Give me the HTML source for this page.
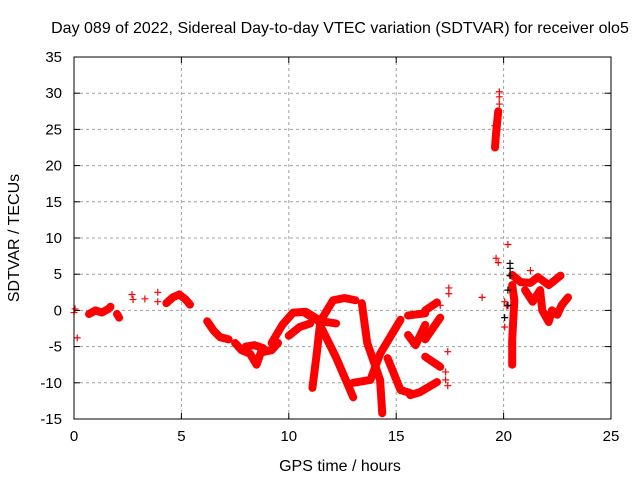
<!DOCTYPE html>
<html><head><meta charset="utf-8"><style>
html,body{margin:0;padding:0;background:#fff;}
svg{display:block;font-family:"Liberation Sans",sans-serif;}
</style></head><body>
<svg id="chart" width="640" height="480" viewBox="0 0 640 480">
<text x="340" y="33" text-anchor="middle" font-size="16">Day 089 of 2022, Sidereal Day-to-day VTEC variation (SDTVAR) for receiver olo5</text>
<text x="340" y="471" text-anchor="middle" font-size="16">GPS time / hours</text>
<text transform="translate(19,238) rotate(-90)" text-anchor="middle" font-size="16">SDTVAR / TECUs</text>
<g id="grid"></g>
<g id="marks"></g>
<rect x="74" y="57" width="537" height="362" fill="none" stroke="#000" stroke-width="1"/>
<g id="axes"></g>
</svg>
<script>
const xTicks=[0,5,10,15,20,25];
const yTicks=[35,30,25,20,15,10,5,0,-5,-10,-15];
// tracks: each is a list of [hours, value]
const tracks=[
[[0.7,-0.5],[1.0,0],[1.3,-0.3],[1.6,0.2],[1.7,0.5]],
[[2.0,-0.5],[2.1,-1]],
[[4.3,1],[4.6,1.8],[4.9,2.2],[5.2,1.5],[5.4,0.8]],
[[6.2,-1.5],[6.5,-2.8],[6.8,-3.7],[7.2,-4]],
[[7.5,-4.5],[7.8,-5.5],[8.2,-6],[8.5,-7.5],[8.7,-5.8],[9.2,-5.5],[9.5,-4.5]],
[[8.0,-5],[8.4,-4.8],[8.8,-5.2]],
[[9.2,-4.5],[9.7,-2],[10.2,-0.3],[10.8,-0.2],[11.5,-1.5],[12.2,-1.8]],
[[10,-3.5],[10.5,-2.3],[11,-1.8]],
[[10.67,-0.2],[11.45,-1.6],[12.06,1.4],[12.6,1.7],[13.1,1.4]],
[[11.45,-2],[11.3,-6],[11.1,-10.7]],
[[11.45,-2],[12.2,-6.5],[13,-12]],
[[13.4,1],[13.65,-4.5],[14.25,-9.6],[14.35,-14.2]],
[[15.2,-1.3],[14.25,-6],[13.8,-9.6],[13,-10]],
[[14.6,-6.6],[15.2,-11],[15.65,-11.4]],
[[15.55,-0.7],[16.35,-0.4]],
[[15.55,-3.4],[15.9,-4.8],[16.35,-2]],
[[16.35,0],[16.9,1.1]],
[[16.35,-4],[17.05,-1]],
[[16.35,-6.4],[17.05,-7.8]],
[[15.65,-11.7],[16.1,-11.3],[16.9,-9.9]],
[[20.4,4.9],[20.8,3.9],[21.25,3.8],[21.6,4.6],[22.1,3.5],[22.4,4.2],[22.65,4.8]],
[[20.4,3.5],[20.5,1.4],[20.45,-1.3],[20.4,-4.1],[20.4,-7.5]],
[[21,2.8],[21.35,1.2],[21.7,2.8],[21.8,0],[22.1,-1.6],[22.25,0],[22.5,-0.6],[22.7,0.7],[23,1.8]],
[[19.6,22.5],[19.65,24.5],[19.7,26],[19.75,27.5]]
];
const redPoints=[[0,-0.3],[0.05,0.2],[0.15,-3.8],[2.7,2.2],[2.75,1.5],[3.3,1.6],[3.9,2.5],[3.9,1.2],
[17.45,3.1],[17.45,2.3],[17.4,-5.7],[17.3,-8.5],[17.3,-9.6],[17.4,-10.4],[17.05,0.7],
[19.6,23],[19.6,25.5],[19.8,28.5],[19.8,29.5],[19.8,30.2],[19.65,7.2],[19.75,6.6],[19.0,1.8],
[20.05,1.2],[20.15,0.6],[20.05,-2.3],[20.2,9.1],[21.25,5.5]];
const blackPoints=[[20.3,6.5],[20.3,5.8],[20.3,4.8],[20.2,2.8],[20.2,0.7],[20.05,-1]];

const NS="http://www.w3.org/2000/svg";
const X0=74,X1=611,Y0=419,Y1=57;
function xs(t){return X0+(t-0)/(25-0)*(X1-X0);}
function ys(v){return Y0-(v-(-15))/(35-(-15))*(Y0-Y1);}
function mk(tag,a,parent){const e=document.createElementNS(NS,tag);for(const k in a)e.setAttribute(k,a[k]);parent.appendChild(e);return e;}
const grid=document.getElementById('grid'),axes=document.getElementById('axes'),marks=document.getElementById('marks');
xTicks.forEach(t=>{
 const x=xs(t);
 if(t>0&&t<25){const g=mk('line',{x1:x,x2:x,y1:Y0,y2:Y1,stroke:'#a0a0a0','stroke-dasharray':'3,3'},grid);
 
 }
 mk('line',{x1:x,x2:x,y1:Y0,y2:Y0-6,stroke:'#000'},axes);
 mk('line',{x1:x,x2:x,y1:Y1,y2:Y1+6,stroke:'#000'},axes);
 const l=mk('text',{x:x,y:Y0+22,'text-anchor':'middle','font-size':'15'},axes);l.textContent=t;
 
 
});
yTicks.forEach(v=>{
 const y=ys(v);
 if(v>-15&&v<35){const g=mk('line',{x1:X0,x2:X1,y1:y,y2:y,stroke:'#a0a0a0','stroke-dasharray':'3,3'},grid);
 
 }
 mk('line',{x1:X0,x2:X0+6,y1:y,y2:y,stroke:'#000'},axes);
 mk('line',{x1:X1,x2:X1-6,y1:y,y2:y,stroke:'#000'},axes);
 const l=mk('text',{x:X0-12,y:y+5,'text-anchor':'end','font-size':'15'},axes);l.textContent=v;
 
 
});
function plus(t,v,c){
 const x=xs(t),y=ys(v);
 const p=mk('path',{d:`M${x-3.5},${y}h7M${x},${y-3.5}v7`,stroke:c,'stroke-width':1.2,fill:'none'},marks);
 
 
}
tracks.forEach(tr=>{
 const pl=mk('polyline',{points:tr.map(p=>xs(p[0])+','+ys(p[1])).join(' '),stroke:'#ff0000','stroke-width':8,fill:'none','stroke-linejoin':'round','stroke-linecap':'round'},marks);
 
 
 tr.forEach(p=>plus(p[0],p[1],'#ff0000'));
});
redPoints.forEach(p=>plus(p[0],p[1],'#ff0000'));
blackPoints.forEach(p=>plus(p[0],p[1],'#000000'));
</script>
</body></html>
